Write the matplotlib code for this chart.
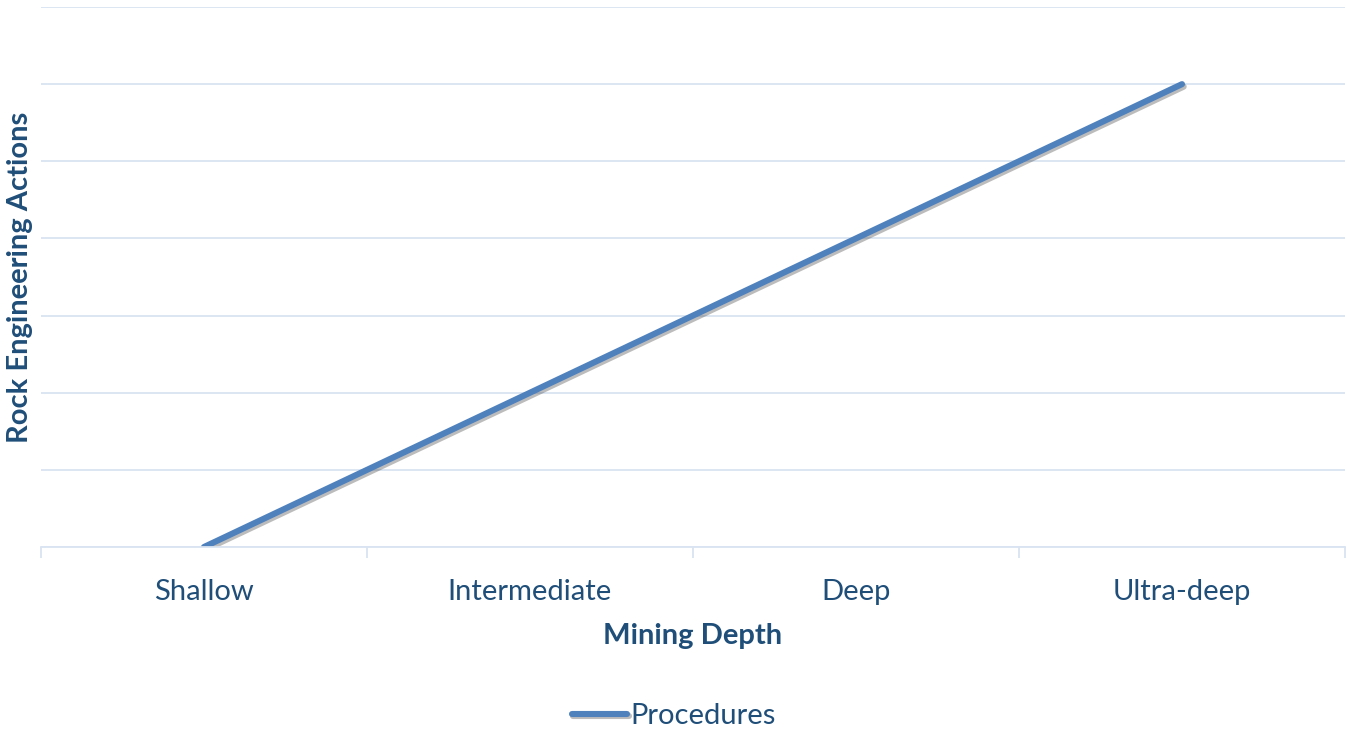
import matplotlib
matplotlib.use("Agg")
import matplotlib.pyplot as plt
import matplotlib.patheffects as pe

# Data
depths = ["Shallow", "Intermediate", "Deep", "Ultra-deep"]
procedures = [0, 2, 4, 6]

TEXT_COLOR = "#1F4E79"
LINE_COLOR = "#4F81BD"
GRID_COLOR = "#D9E3F1"
FS = 21

plt.rcParams['font.family'] = ['Lato', 'DejaVu Sans']

fig = plt.figure(figsize=(13.47, 7.3), dpi=100)
ax = fig.add_axes([41 / 1347, 1 - 547 / 730, 1304 / 1347, 540 / 730])

x = list(range(len(depths)))
ax.plot(x, procedures, color=LINE_COLOR, linewidth=4.4, solid_capstyle='round',
        label="Procedures",
        path_effects=[pe.SimpleLineShadow(offset=(1.2, -1.8), shadow_color='#404040', alpha=0.35),
                      pe.Normal()])

ax.set_xlim(-0.5, len(depths) - 0.5)
ax.set_ylim(0, 7)
ax.set_yticks(range(0, 8))
ax.set_yticklabels([])
ax.tick_params(axis='y', length=0)
ax.grid(axis='y', color=GRID_COLOR, linewidth=1.3)
ax.set_axisbelow(True)

# category ticks sit on the boundaries between categories
ax.set_xticks([i - 0.5 for i in range(len(depths) + 1)])
ax.set_xticklabels([])
ax.set_xticks(x, minor=True)
ax.set_xticklabels(depths, minor=True, fontsize=FS, color=TEXT_COLOR)
ax.tick_params(axis='x', which='major', length=8, color=GRID_COLOR, width=1.3)
ax.tick_params(axis='x', which='minor', length=0, pad=23)

for side in ['top', 'right', 'left']:
    ax.spines[side].set_visible(False)
ax.spines['bottom'].set_color(GRID_COLOR)
ax.spines['bottom'].set_linewidth(1.3)

ax.set_xlabel("Mining Depth", fontsize=FS, fontweight='bold', color=TEXT_COLOR)
ax.xaxis.set_label_coords(0.5, -89 / 540)
ax.xaxis.label.set_va('center')
ax.set_ylabel("Rock Engineering Actions", fontsize=FS, fontweight='bold', color=TEXT_COLOR)
ax.yaxis.set_label_coords(-21 / 1304, 0.5)
ax.yaxis.label.set_va('center')

leg = fig.legend(loc='center', bbox_to_anchor=(0.5, 1 - 716 / 730), frameon=False,
                 fontsize=FS, handlelength=1.9, handletextpad=0.1)
for t in leg.get_texts():
    t.set_color(TEXT_COLOR)

fig.savefig("out.png", dpi=100)
